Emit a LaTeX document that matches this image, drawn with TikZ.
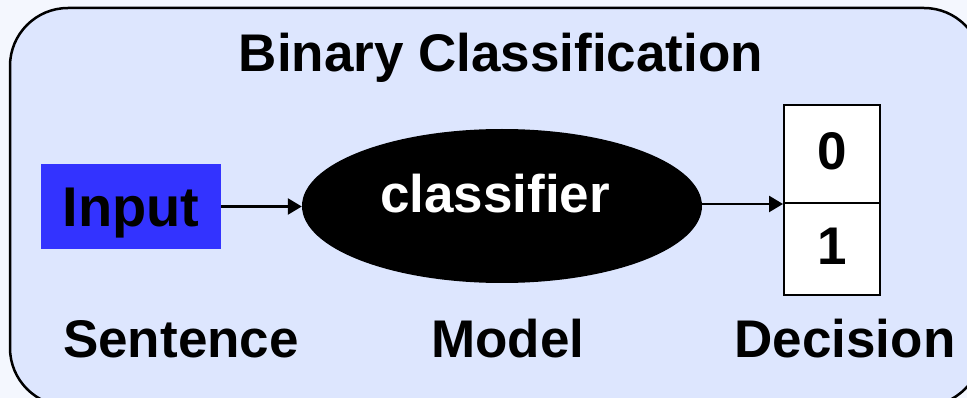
\documentclass[tikz,border=0pt]{standalone}
\usepackage{fontspec}
\setmainfont{Liberation Sans}
\usetikzlibrary{shapes.geometric,arrows.meta}
\definecolor{outerbg}{HTML}{F4F7FE}
\definecolor{panel}{HTML}{DDE6FE}
\definecolor{inputblue}{HTML}{3333FF}
\begin{document}
\begin{tikzpicture}[x=1pt,y=-1pt,
  bigfont/.style={font=\fontsize{53}{60}\selectfont\bfseries},
  lbl/.style={bigfont, inner sep=0pt, anchor=base},
  cell/.style={draw, line width=2, fill=white, minimum width=96, inner sep=0pt,
    bigfont, text height=38, text depth=6},
  arr/.style={line width=2.5, -{Triangle[length=14,width=16]}}]
  % page and panel
  \useasboundingbox (0,0) rectangle (967,398);
  \fill[outerbg] (0,0) rectangle (967,398);
  \draw[line width=2.5, fill=panel, rounded corners=58] (10,8) rectangle (982,406);

  % title
  \node[lbl] (title) at (501,72) {Binary Classification};

  % input
  \node[fill=inputblue, minimum width=180, minimum height=85, inner sep=0pt,
        font=\fontsize{56}{60}\selectfont\bfseries, text height=40, text depth=0]
        (inp) at (131,206.5) {Input};

  % model
  \node[ellipse, fill=black, minimum width=400, minimum height=154, inner sep=0pt] (clf) at (502,206) {};
  \node[lbl, text=white] (clftxt) at (495,213) {classifier};

  % decision cells
  \node[cell, minimum height=98] (d0) at (832,154) {0};
  \node[cell, minimum height=92] (d1) at (832,249) {1};

  % connectors
  \draw[arr] (inp.east) -- (inp.east -| clf.west);
  \draw[arr] (clf.east |- d0.south west) -- (d0.south west);

  % captions
  \node[lbl] (cap1) at (181,357) {Sentence};
  \node[lbl] (cap2) at (508,357) {Model};
  \node[lbl] (cap3) at (845,357) {Decision};
\end{tikzpicture}
\end{document}
